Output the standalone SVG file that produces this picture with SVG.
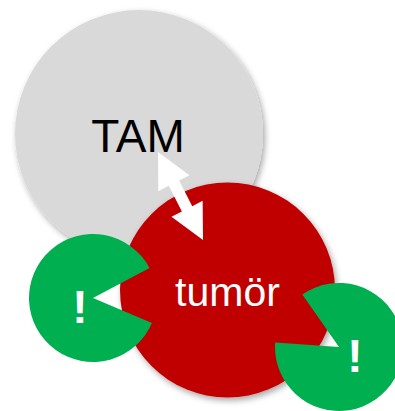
<svg xmlns="http://www.w3.org/2000/svg" width="395" height="411" viewBox="0 0 395 411">
  <defs>
    <filter id="sh" x="-20%" y="-20%" width="140%" height="140%">
      <feDropShadow dx="2" dy="3" stdDeviation="3" flood-color="#000" flood-opacity="0.35"/>
    </filter>
    <style>
      .lbl { font-family: "Liberation Sans", Arial, sans-serif; text-anchor: middle; }
      .bang { font-family: "Liberation Sans", Arial, sans-serif; font-weight: bold; font-size: 46px; fill: #ffffff; text-anchor: middle; }
      .green { fill: #00b050; }
    </style>
  </defs>
  <rect width="395" height="411" fill="#ffffff"/>
  <g id="tam">
    <circle cx="139" cy="134" r="124" fill="#d9d9d9" filter="url(#sh)"/>
    <text class="lbl" x="138" y="152" font-size="46" fill="#000000">TAM</text>
  </g>
  <g id="tumor">
    <circle cx="227.5" cy="290" r="107.5" fill="#c00000" filter="url(#sh)"/>
    <text class="lbl" x="227.5" y="306" font-size="41" fill="#ffffff">tumör</text>
  </g>
  <g id="connectors">
    <polygon fill="#ffffff" points="158,152 189.53,175.2 179.11,180.53 192.23,206.19 202.65,200.86 203,240 171.47,216.8 181.89,211.47 168.77,185.81 158.35,191.14"/>
  </g>
  <g id="alert-left">
    <path class="green" d="M 93 298 L 151.91 323.01 A 64 64 0 1 1 149.51 267.95 Z"/>
    <text class="bang" x="80" y="323">!</text>
  </g>
  <g id="alert-right">
    <path class="green" d="M 339 347 L 302.29 294.57 A 64 64 0 1 1 275.16 342.54 Z"/>
    <text class="bang" x="355" y="372">!</text>
  </g>
</svg>
